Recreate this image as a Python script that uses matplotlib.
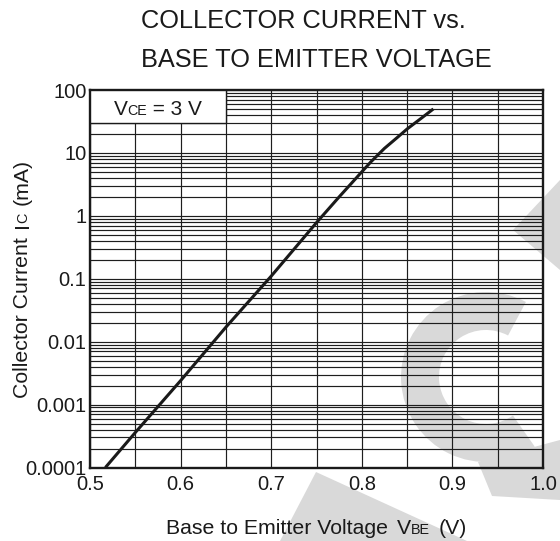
import numpy as np
import matplotlib
matplotlib.use('Agg')
import matplotlib.pyplot as plt
from matplotlib.patches import Rectangle, Polygon, Wedge
from matplotlib.ticker import FixedLocator, FixedFormatter, LogLocator, MultipleLocator, NullFormatter
import matplotlib.transforms as mtrans

# ---- data ----
vbe = [0.517, 0.55, 0.60, 0.65, 0.70, 0.75, 0.775, 0.80, 0.81, 0.825, 0.84, 0.85, 0.865, 0.879]
ic = [1.0e-4, 3.6e-4, 2.4e-3, 1.7e-2, 0.11, 0.78, 2.0, 5.0, 7.2, 11.8, 18.0, 24.0, 35.0, 50.0]

x_ticks = [0.5, 0.6, 0.7, 0.8, 0.9, 1.0]
x_tick_labels = ['0.5', '0.6', '0.7', '0.8', '0.9', '1.0']
y_ticks = [1e-4, 1e-3, 1e-2, 1e-1, 1, 10, 100]
y_tick_labels = ['0.0001', '0.001', '0.01', '0.1', '1', '10', '100']

title_lines = ['COLLECTOR CURRENT vs.', 'BASE TO EMITTER VOLTAGE']
legend_parts = [('V', 'big'), ('CE', 'small'), (' = 3 V', 'big')]
xlabel_parts = [('Base to Emitter Voltage', 'big'), (9, 'gap'), ('V', 'big'), ('BE', 'small'), (8, 'gap'), ('(V)', 'big')]
ylabel_parts = [('Collector Current', 'big'), (9, 'gap'), ('I', 'big'), ('C', 'small'), (7, 'gap'), ('(mA)', 'big')]

plt.rcParams['font.family'] = ['Liberation Sans', 'DejaVu Sans']

W, H = 560, 541
fig = plt.figure(figsize=(W / 100, H / 100), dpi=100)
fig.patch.set_facecolor('white')

# pixel (y down) -> figure transform
pix = mtrans.Affine2D().scale(1 / W, -1 / H).translate(0, 1) + fig.transFigure
pix_up = mtrans.Affine2D().scale(1 / W, 1 / H) + fig.transFigure

# ---- watermark ----
wm = '#d9d9d9'
fig.patches.append(Polygon([(513, 230), (560, 180), (560, 270)], closed=True, transform=pix,
                           facecolor=wm, edgecolor='none', zorder=-5))
fig.patches.append(Polygon([(280, 541), (316, 472), (467, 541)], closed=True, transform=pix,
                           facecolor=wm, edgecolor='none', zorder=-5))
fig.patches.append(Polygon([(478, 462), (560, 440), (560, 500), (492, 496)], closed=True, transform=pix,
                           facecolor=wm, edgecolor='none', zorder=-5))
fig.patches.append(Wedge((486, H - 377), 85, 62, 305, width=38, transform=pix_up,
                         facecolor=wm, edgecolor='none', zorder=-5))

# ---- axes ----
L, R, T, B = 90, 543, 90, 467.5
ax = fig.add_axes([L / W, 1 - B / H, (R - L) / W, (B - T) / H])
ax.set_facecolor('none')
ax.set_xlim(0.5, 1.0)
ax.set_yscale('log')
ax.set_ylim(1e-4, 100)

ax.xaxis.set_major_locator(FixedLocator(x_ticks))
ax.xaxis.set_major_formatter(FixedFormatter(x_tick_labels))
ax.xaxis.set_minor_locator(MultipleLocator(0.05))
ax.yaxis.set_major_locator(FixedLocator(y_ticks))
ax.yaxis.set_major_formatter(FixedFormatter(y_tick_labels))
ax.yaxis.set_minor_locator(LogLocator(base=10, subs=np.arange(2, 10), numticks=100))
ax.yaxis.set_minor_formatter(NullFormatter())

ax.grid(which='both', color='#1e1e1e', lw=0.85)
ax.tick_params(which='both', length=0)
ax.tick_params(axis='x', labelsize=14.5, pad=5.5, colors='#1a1a1a')
ax.tick_params(axis='y', labelsize=14.5, pad=2.5, colors='#1a1a1a')
for s in ax.spines.values():
    s.set_linewidth(1.7)
    s.set_color('#1a1a1a')

# legend box (covers grid)
ax.add_patch(Rectangle((0.5, 30), 0.15, 70, facecolor='white', edgecolor='#1a1a1a', lw=1.0, zorder=3))

# curve
ax.plot(vbe, ic, color='#1a1a1a', lw=2.2, zorder=4, solid_capstyle='butt', solid_joinstyle='round')

# ---- text ----
renderer = fig.canvas.get_renderer()


def tw(s, size):
    t = fig.text(0, 0, s, fontsize=size)
    w = t.get_window_extent(renderer).width
    t.remove()
    return w


def composite(parts, big, small, cx, base, rotate=False):
    sizes = {'big': big, 'small': small}
    widths = []
    for p, kind in parts:
        widths.append(p if kind == 'gap' else tw(p, sizes[kind]))
    total = sum(widths)
    pos = cx - total / 2 if not rotate else cx + total / 2
    for (p, kind), w in zip(parts, widths):
        if kind != 'gap':
            if rotate:
                fig.text(base, pos, p, fontsize=sizes[kind], transform=pix, rotation=90,
                         rotation_mode='anchor', ha='left', va='baseline', color='#1a1a1a')
            else:
                fig.text(pos, base, p, fontsize=sizes[kind], transform=pix,
                         ha='left', va='baseline', color='#1a1a1a')
        pos = pos + w if not rotate else pos - w


# title
fig.text(141, 28, title_lines[0], fontsize=18.3, transform=pix, ha='left', va='baseline', color='#1a1a1a')
fig.text(141, 67, title_lines[1], fontsize=18.3, transform=pix, ha='left', va='baseline', color='#1a1a1a')

composite(legend_parts, 15, 10.3, 158, 115)
composite(xlabel_parts, 15.3, 10.4, 316.5, 534)
composite(ylabel_parts, 15.3, 10.4, 278.7, 27.5, rotate=True)

fig.savefig('out.png', dpi=100)
